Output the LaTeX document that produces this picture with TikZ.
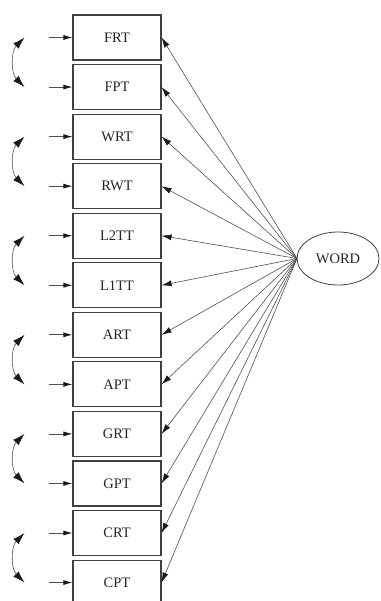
\documentclass[tikz,border=0pt]{standalone}
\usepackage{fontspec}
\setmainfont{Liberation Serif}
\usetikzlibrary{arrows.meta,shapes.geometric}
\definecolor{lc}{HTML}{505050}
\definecolor{tipc}{HTML}{1A1A1A}
\tikzset{
  obsbox/.style={draw=black!75, line width=1.1pt, minimum width=88pt, minimum height=45pt, inner sep=0pt, text=black!85, font=\fontsize{14.5}{16}\selectfont},
  latent/.style={draw=black!75, line width=0.8pt, ellipse, minimum width=82pt, minimum height=53pt, inner sep=0pt, text=black!85, font=\fontsize{14.5}{16}\selectfont},
  regpath/.style={draw=lc, line width=0.6pt, -{Latex[length=10pt,width=6pt,color=tipc]}},
  errarr/.style={draw=lc, line width=0.8pt, -{Latex[length=9pt,width=5pt,color=tipc]}},
  covarc/.style={draw=lc, line width=0.6pt, {Latex[length=12pt,width=7.5pt,color=tipc]}-{Latex[length=12pt,width=7.5pt,color=tipc]}, bend right=45},
}
\begin{document}
\begin{tikzpicture}[x=1pt,y=-1pt]
\useasboundingbox (0,0) rectangle (380,601);
\node[latent] (word) at (338,258.5) {WORD};
\coordinate (conv) at (297,258.5);
\foreach \lab [count=\i from 0] in {FRT,FPT,WRT,RWT,L2TT,L1TT,ART,APT,GRT,GPT,CRT,CPT}{
  \pgfmathsetmacro{\yy}{37.5+49.55*\i}
  \node[obsbox] (b\i) at (117,\yy) {\lab};
  \coordinate (e\i) at (49,\yy);
  \coordinate (c\i) at (24.5,\yy);
  \draw[errarr] (e\i) -- (b\i.west);
  \draw[regpath] (conv) -- (b\i.east);
}
\foreach \a/\b in {0/1,2/3,4/5,6/7,8/9,10/11}{
  \draw[covarc] (c\a) to (c\b);
}
\end{tikzpicture}
\end{document}
